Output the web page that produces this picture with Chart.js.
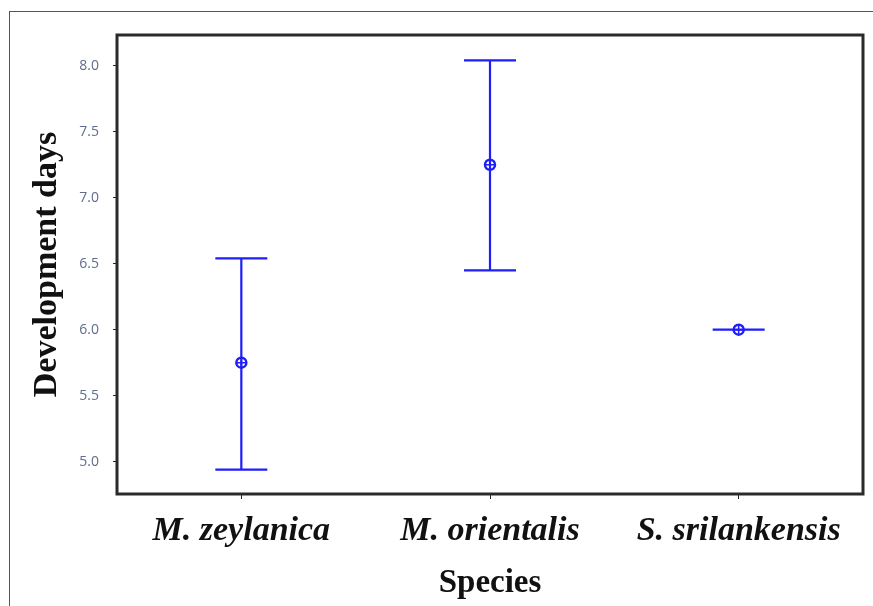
<!DOCTYPE html>
<html>
<head>
<meta charset="utf-8">
<script src="https://cdn.jsdelivr.net/npm/chart.js@4/dist/chart.umd.min.js"></script>
<style>
  body { margin: 0; background: #fff; }
  #wrap { position: relative; width: 873px; height: 606px; }
  #frame { position: absolute; left: 9px; top: 11px; right: 0; bottom: 0;
           border-top: 1px solid #555; border-left: 1px solid #555; pointer-events: none; }
</style>
</head>
<body>
<div id="wrap">
  <canvas id="devChart" width="873" height="606"></canvas>
  <div id="frame"></div>
</div>
<script>
// Development days by species (mean with error bars)
const species = ['M. zeylanica', 'M. orientalis', 'S. srilankensis'];
const meanDays = [5.75, 7.25, 6.0];
const lowerDays = [4.94, 6.45, 6.0];
const upperDays = [6.54, 8.04, 6.0];
const yTicks = [5.0, 5.5, 6.0, 6.5, 7.0, 7.5, 8.0];

const blue = 'rgb(30, 30, 250)';

// error bars drawn through the chart's scales
const errorBars = {
    id: 'errorBars',
    beforeDatasetsDraw(chart) {
        const ctx = chart.ctx;
        const xs = chart.scales.x, ys = chart.scales.y;
        ctx.save();
        ctx.strokeStyle = blue;
        ctx.lineWidth = 2.2;
        species.forEach((s, i) => {
            const x = xs.getPixelForValue(i);
            const yLo = ys.getPixelForValue(lowerDays[i]);
            const yHi = ys.getPixelForValue(upperDays[i]);
            ctx.beginPath();
            ctx.moveTo(x, yLo); ctx.lineTo(x, yHi);
            ctx.moveTo(x - 26, yLo); ctx.lineTo(x + 26, yLo);
            ctx.moveTo(x - 26, yHi); ctx.lineTo(x + 26, yHi);
            ctx.stroke();
        });
        ctx.restore();
    },
    afterDraw(chart) {
        const {ctx, chartArea: a} = chart;
        ctx.save();
        ctx.strokeStyle = '#2a2a2a';
        ctx.lineWidth = 3;
        ctx.strokeRect(a.left, a.top, a.right - a.left, a.bottom - a.top);
        ctx.restore();
    }
};

const ctx = document.getElementById('devChart').getContext('2d');
const devChart = new Chart(ctx, {
    type: 'line',
    data: {
        labels: species,
        datasets: [
            {
                data: meanDays,
                showLine: false,
                pointStyle: 'circle',
                pointRadius: 5,
                pointBorderWidth: 2.5,
                pointBorderColor: blue,
                pointBackgroundColor: 'rgba(255,255,255,0)'
            },
            {
                data: meanDays,
                showLine: false,
                pointStyle: 'cross',
                pointRadius: 5,
                pointBorderWidth: 1.5,
                pointBorderColor: blue
            }
        ]
    },
    options: {
        responsive: false,
        animation: false,
        layout: { padding: { top: 35, right: 10, left: 0, bottom: 0 } },
        plugins: {
            legend: { display: false },
            tooltip: { enabled: false }
        },
        scales: {
            x: {
                offset: true,
                grid: { drawOnChartArea: false, drawTicks: true, tickLength: 5, color: '#222', offset: false },
                border: { display: false },
                ticks: {
                    color: '#111',
                    padding: 12,
                    maxRotation: 0,
                    autoSkip: false,
                    font: { family: '"Liberation Serif", "Times New Roman", serif', size: 34, weight: 'bold', style: 'italic' }
                },
                title: {
                    display: true,
                    text: 'Species',
                    color: '#111',
                    padding: { top: 0, bottom: 3 },
                    font: { family: '"Liberation Serif", "Times New Roman", serif', size: 33, weight: 'bold' }
                },
                afterFit(scale) { scale.height = 112; }
            },
            y: {
                min: 4.755,
                max: 8.233,
                afterBuildTicks(scale) { scale.ticks = yTicks.map(v => ({ value: v })); },
                grid: { drawOnChartArea: false, drawTicks: true, tickLength: 4, color: '#222' },
                border: { display: false },
                ticks: {
                    color: '#5f6d8c',
                    padding: 14,
                    font: { family: '"Open Sans", "DejaVu Sans", sans-serif', size: 14 },
                    callback: v => v.toFixed(1)
                },
                title: {
                    display: true,
                    text: 'Development days',
                    color: '#111',
                    padding: { top: 27, bottom: 0 },
                    font: { family: '"Liberation Serif", "Times New Roman", serif', size: 34, weight: 'bold' }
                },
                afterFit(scale) { scale.width = 117; }
            }
        }
    },
    plugins: [errorBars]
});
</script>
</body>
</html>
